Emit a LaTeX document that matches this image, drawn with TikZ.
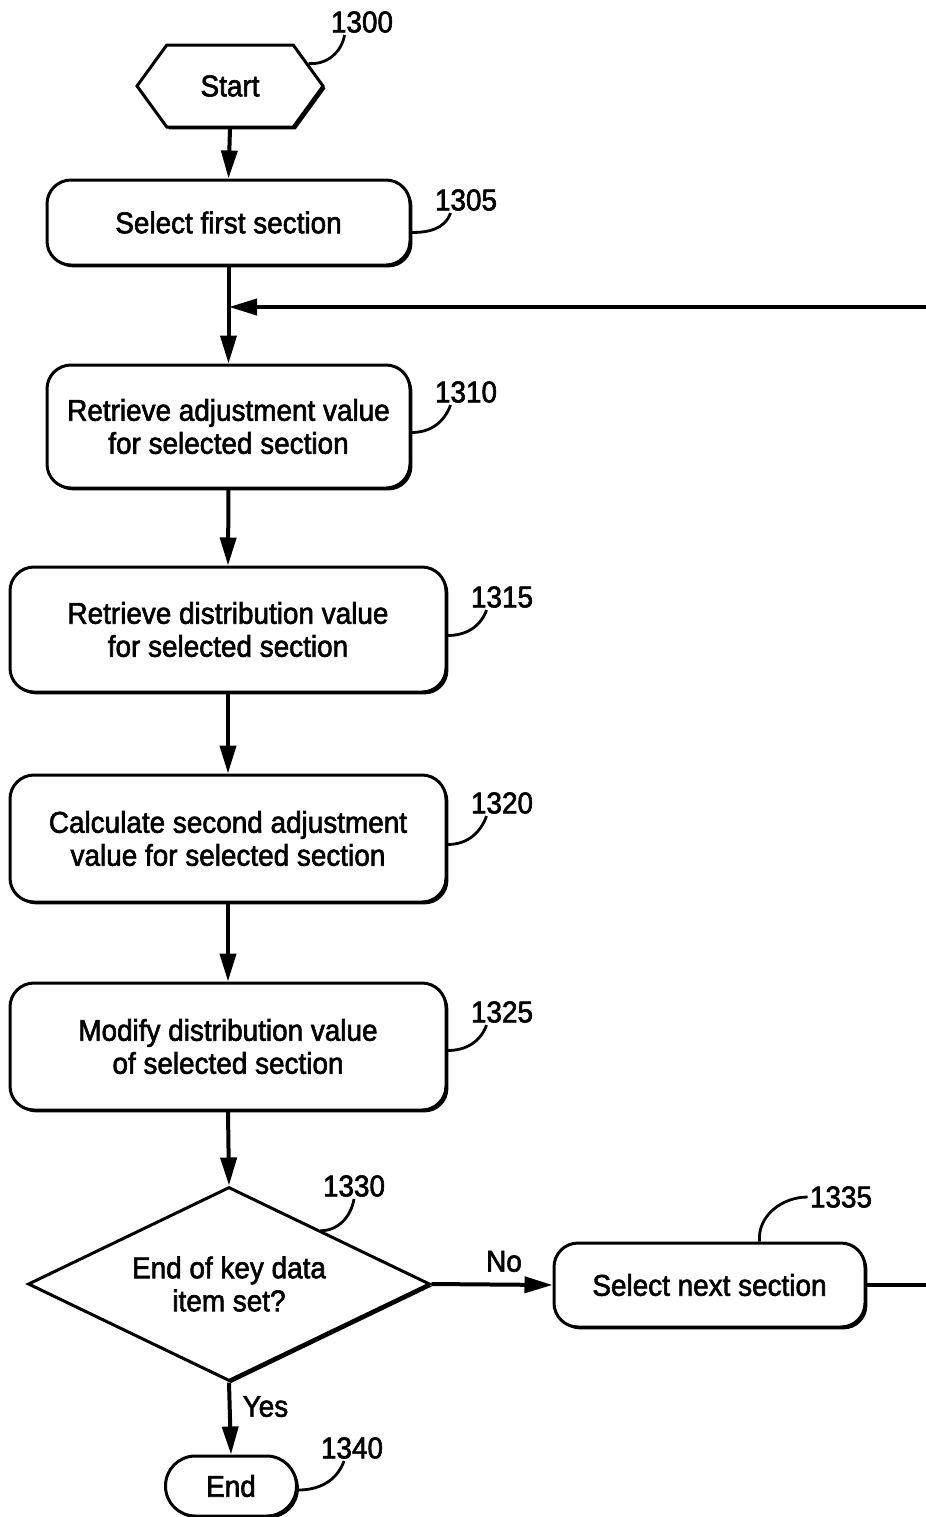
\documentclass[tikz,border=0pt]{standalone}
\usepackage{fontspec}
\setmainfont{Liberation Sans}[FakeStretch=0.93,FakeBold=2]
\usetikzlibrary{positioning}
\usetikzlibrary{shadows}
\usetikzlibrary{shapes.geometric}
\usetikzlibrary{shapes.symbols}
\usetikzlibrary{arrows.meta}
\tikzstyle{every process} = [draw, line width=1.5pt, rounded corners=12pt, fill=white,
align=center, inner sep=0pt,
drop shadow={shadow xshift=1.2pt, shadow yshift=-1.2pt, fill=black, opacity=1}]
\tikzstyle{every terminal} = [draw, line width=1.5pt, fill=white, inner sep=0pt,
drop shadow={shadow xshift=1.2pt, shadow yshift=-1.2pt, fill=black, opacity=1}]
\tikzstyle{every decision} = [diamond, aspect=2.07, draw, line width=1.5pt, fill=white, align=center,
inner sep=0pt, minimum width=201pt, minimum height=97pt,
drop shadow={shadow xshift=1.2pt, shadow yshift=-1.2pt, fill=black, opacity=1}]
\tikzstyle{flow} = [line width=2pt, -{Triangle[length=14pt,width=8pt]}]
\tikzstyle{leader} = [line width=1.4pt]
\tikzstyle{ref label} = [inner sep=1pt]

\begin{document}
\begin{tikzpicture}[x=0.5pt, y=-0.5pt, font=\fontsize{15}{16.5}\selectfont]
  \useasboundingbox (0,0) rectangle (926,1517);

  % steps
  \node[every terminal, signal, signal to=east and west, signal pointer angle=108,
    minimum width=93pt, minimum height=41pt] (sstart) at (230,86) {Start};
  \node[every process, minimum width=181.5pt, minimum height=42.5pt] (s1305) at (228.5,222.5)
    {Select first section};
  \node[every process, minimum width=181.5pt, minimum height=61.5pt] (s1310) at (228.5,426.5)
    {Retrieve adjustment value\\for selected section};
  \node[every process, minimum width=218pt, minimum height=62.5pt] (s1315) at (228,629.5)
    {Retrieve distribution value\\for selected section};
  \node[every process, minimum width=218pt, minimum height=63.5pt] (s1320) at (228,838.5)
    {Calculate second adjustment\\value for selected section};
  \node[every process, minimum width=218pt, minimum height=63.5pt] (s1325) at (228,1046.5)
    {Modify distribution value\\of selected section};
  \node[every decision] (s1330) at (229,1284) {End of key data\\item set?};
  \node[every process, minimum width=155.5pt, minimum height=42pt] (s1335) at (709.5,1285)
    {Select next section};
  \node[every terminal, rounded corners=14.9pt, minimum width=65.5pt, minimum height=30pt]
    (send) at (231,1486) {End};

  % reference numbers
  \node[ref label] (n1300) at (362,22) {1300};
  \node[ref label] (n1305) at (466,200) {1305};
  \node[ref label] (n1310) at (466,392) {1310};
  \node[ref label] (n1315) at (502,597) {1315};
  \node[ref label] (n1320) at (502,803) {1320};
  \node[ref label] (n1325) at (502,1012) {1325};
  \node[ref label] (n1330) at (354,1186) {1330};
  \node[ref label] (n1335) at (841,1197) {1335};
  \node[ref label] (n1340) at (352,1448) {1340};

  \draw[leader] (sstart.16) to[out=-5,in=-100] ([xshift=8pt]n1300.south west);
  \draw[leader] ([yshift=-5pt]s1305.east) to[out=0,in=-110] ([xshift=9pt]n1305.south west);
  \draw[leader] ([yshift=-3pt]s1310.east) to[out=0,in=-110] ([xshift=9pt]n1310.south west);
  \draw[leader] ([yshift=-3pt]s1315.east) to[out=0,in=-110] ([xshift=9pt]n1315.south west);
  \draw[leader] ([yshift=-3pt]s1320.east) to[out=0,in=-110] ([xshift=9pt]n1320.south west);
  \draw[leader] ([yshift=-2pt]s1325.east) to[out=0,in=-110] ([xshift=9pt]n1325.south west);
  \draw[leader] ([xshift=-5pt,yshift=2pt]s1330.north east) to[out=0,in=-100] (n1330.south);
  \draw[leader] ([xshift=25pt]s1335.north) to[out=95,in=180] (n1335.west);
  \draw[leader] ([yshift=-2pt]send.east) to[out=0,in=-110] ([xshift=-4pt]n1340.south);

  % connectors (the return line runs past the right edge)
  \coordinate (loopcorner) at (934,307);
  \coordinate (loopjoin) at (229,307);
  \draw[flow] (sstart.south) -- (s1305.north);
  \draw[flow] (s1305.south) -- (s1310.north);
  \draw[flow] (s1310.south) -- (s1315.north);
  \draw[flow] (s1315.south) -- (s1320.north);
  \draw[flow] (s1320.south) -- (s1325.north);
  \draw[flow] (s1325.south) -- (s1330.north);
  \draw[flow] (s1330.east) -- node[above=2pt, xshift=6pt] {No} (s1335.west);
  \draw[flow] (s1330.south) -- node[right=2pt, yshift=6pt] {Yes} (send.north);
  \draw[flow] (s1335.east) -| (loopcorner) -- (loopjoin);
\end{tikzpicture}
\end{document}
